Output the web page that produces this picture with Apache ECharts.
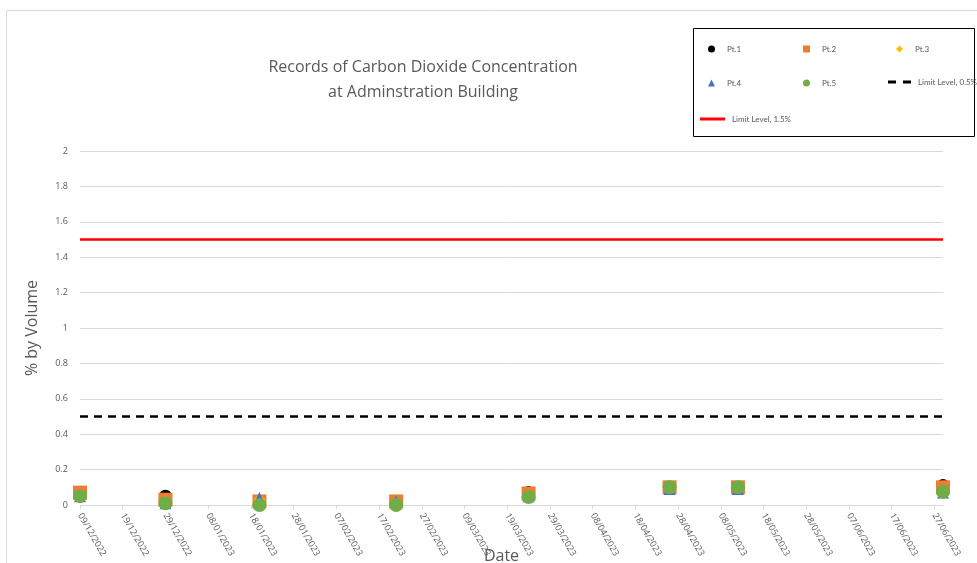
<!DOCTYPE html>
<html><head><meta charset="utf-8">
<script src="https://cdn.jsdelivr.net/npm/echarts@6/dist/echarts.min.js"></script>
<style>html,body{margin:0;padding:0;background:#fff}#c{width:977px;height:563px}</style>
</head><body><div id="c"></div>
<script>
const startDate = '09/12/2022';
const endDate = '29/06/2023';
const tickLabelDays = [0,10,20,30,40,50,60,70,80,90,100,110,120,130,140,150,160,170,180,190,200];
const sampleDates = ['09/12/2022','29/12/2022','20/01/2023','21/02/2023','24/03/2023','26/04/2023','12/05/2023','29/06/2023'];
const pt1 = [0.06, 0.05, 0.01, 0.01, 0.07, 0.10, 0.10, 0.11];
const pt2 = [0.07, 0.03, 0.02, 0.02, 0.065, 0.10, 0.10, 0.10];
const pt3 = [0.05, 0.02, 0.03, 0.01, 0.05, 0.09, 0.09, 0.08];
const pt4 = [0.05, 0.01, 0.04, 0.02, 0.05, 0.09, 0.09, 0.07];
const pt5 = [0.05, 0.01, 0.0, 0.0, 0.045, 0.10, 0.10, 0.075];
const limitLow = 0.5;
const limitHigh = 1.5;

function parseD(s){const p=s.split('/');return Date.UTC(+p[2],+p[1]-1,+p[0]);}
const t0 = parseD(startDate);
function dayOf(s){return Math.round((parseD(s)-t0)/86400000);}
function fmt(d){const dt=new Date(t0+d*86400000);const dd=String(dt.getUTCDate()).padStart(2,'0');const mm=String(dt.getUTCMonth()+1).padStart(2,'0');return dd+'/'+mm+'/'+dt.getUTCFullYear();}
const xMax = dayOf(endDate);
const xs = sampleDates.map(dayOf);
const mk = arr => arr.map((v,i)=>[xs[i],v]);

const font = '"Open Sans", "Liberation Sans", sans-serif';
const legFont = 'Lato, "Liberation Sans", sans-serif';
const gray = '#595959';
const chart = echarts.init(document.getElementById('c'));
function leg(name,left,top,w,h,icon,pad){
  const o = {data:[icon?{name:name,icon:icon}:name],left:left,top:top,itemWidth:w,itemHeight:h,itemGap:0,
    textStyle:{fontSize:8,color:gray,fontFamily:legFont,padding:[0,0,0,pad]},selectedMode:false,padding:0};
  return o;
}
const dashIcon = 'path://M0,0H8V3H0Z M15,0H23V3H15Z';
chart.setOption({
  animation:false,
  textStyle:{fontFamily:font},
  title:{text:'Records of Carbon Dioxide Concentration\nat Adminstration Building',left:418,top:50,textAlign:'center',
    textStyle:{fontSize:16,fontWeight:'normal',color:gray,lineHeight:25,fontFamily:font}},
  graphic:[
    {type:'rect',shape:{x:6.5,y:10.5,width:1000,height:600},style:{fill:'none',stroke:'#d9d9d9',lineWidth:1},silent:true,z:-10},
    {type:'rect',shape:{x:693.5,y:28.5,width:281,height:108},style:{fill:'#fff',stroke:'#000',lineWidth:1},silent:true,z:-1}
  ],
  legend:[
    leg('Pt.1',708,45,7,7,null,7),
    leg('Pt.2',803,45,7,7,null,7),
    leg('Pt.3',896,45,7,7,null,7),
    leg('Pt.4',708,79,7,7,null,7),
    leg('Pt.5',803,79,7,7,null,7),
    leg('Limit Level, 0.5%',888,78,23,3,dashIcon,2),
    leg('Limit Level, 1.5%',700,115,25,3,'rect',2)
  ],
  grid:{left:80,right:34,top:151,bottom:58,containLabel:false,outerBoundsMode:'none'},
  xAxis:{type:'value',min:0,max:xMax,
    name:'Date',nameLocation:'middle',nameGap:43,nameMoveOverlap:false,nameTextStyle:{fontSize:16,color:gray,fontFamily:font,padding:[0,20,0,0]},
    axisLine:{show:true,lineStyle:{color:'#d9d9d9'}},
    axisTick:{show:true,customValues:tickLabelDays,length:4,lineStyle:{color:'#d9d9d9'}},
    axisLabel:{customValues:tickLabelDays,rotate:-60,fontSize:9,color:gray,margin:9,formatter:v=>fmt(v)},
    splitLine:{show:false}},
  yAxis:{type:'value',min:0,max:2,interval:0.2,
    name:'% by Volume',nameLocation:'middle',nameGap:40,nameMoveOverlap:false,nameTextStyle:{fontSize:16,color:gray,fontFamily:font},
    axisLine:{show:false},axisTick:{show:false},
    axisLabel:{fontSize:9,color:gray,margin:12},
    splitLine:{lineStyle:{color:'#d9d9d9'}}},
  series:[
    {name:'Pt.1',type:'scatter',data:mk(pt1),symbol:'circle',symbolSize:13,itemStyle:{color:'#000000',opacity:1},z:2},
    {name:'Pt.2',type:'scatter',data:mk(pt2),symbol:'rect',symbolSize:14,itemStyle:{color:'#ed7d31',opacity:1},z:3},
    {name:'Pt.3',type:'scatter',data:mk(pt3),symbol:'diamond',symbolSize:12,itemStyle:{color:'#ffc000',opacity:1},z:4},
    {name:'Pt.4',type:'scatter',data:mk(pt4),symbol:'triangle',symbolSize:12,itemStyle:{color:'#4472c4',opacity:1},z:5},
    {name:'Pt.5',type:'scatter',data:mk(pt5),symbol:'circle',symbolSize:14,itemStyle:{color:'#70ad47',opacity:1},z:6},
    {name:'Limit Level, 0.5%',type:'line',data:[[0,limitLow],[xMax,limitLow]],symbol:'none',
      itemStyle:{color:'#000'},lineStyle:{color:'#000',width:2.5,type:[8,6]},z:1},
    {name:'Limit Level, 1.5%',type:'line',data:[[0,limitHigh],[xMax,limitHigh]],symbol:'none',
      itemStyle:{color:'#ff0000'},lineStyle:{color:'#ff0000',width:2.5},z:1}
  ]
});
</script></body></html>
